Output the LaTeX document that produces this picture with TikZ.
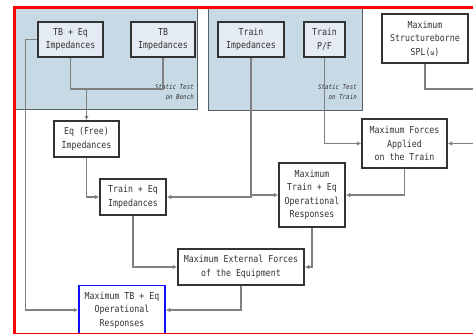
\documentclass[tikz,border=0pt]{standalone}
\usepackage{fontspec}
\usetikzlibrary{arrows.meta}
\newfontfamily\diafont[FakeStretch=0.86]{DejaVu Sans Mono}
\definecolor{regionfill}{HTML}{C8D9E6}
\definecolor{regionedge}{HTML}{5A5F66}
\definecolor{nodefill}{HTML}{E4EBF2}
\definecolor{boxedge}{HTML}{333333}
\definecolor{linegray}{HTML}{808080}
\definecolor{textgray}{HTML}{333333}
\definecolor{frame}{HTML}{FF0000}
\definecolor{hiblue}{HTML}{1010FF}
\tikzset{
  box/.style={draw=boxedge, line width=1.5pt, fill=white, align=center,
    inner sep=0pt, text=textgray, font=\diafont\fontsize{9.6}{13.5}\selectfont},
  inbox/.style={box, fill=nodefill},
  conn/.style={draw=linegray, line width=1.4pt},
  arr/.style={conn, -{Latex[length=4.5pt,width=4.5pt]}},
  region/.style={fill=regionfill, draw=regionedge, line width=1pt},
  note/.style={align=right, anchor=east, inner sep=0pt, text=textgray,
    font=\diafont\itshape\fontsize{6.8}{10}\selectfont}
}
\begin{document}
\begin{tikzpicture}[x=1pt,y=-1pt]
\clip (0,0) rectangle (473,333);
\fill[white] (0,0) rectangle (473,333);
% regions
\draw[region] (15.5,8.5) rectangle (197,109);
\draw[region] (208,8.5) rectangle (362,110);
\node[note] (nb) at (194,92) {Static Test\\on Bench};
\node[note] (nt) at (357,92) {Static Test\\on Train};
% nodes
\node[inbox, minimum width=65pt, minimum height=35pt] (A) at (70.5,39.5) {TB + Eq\\Impedances};
\node[inbox, minimum width=64pt, minimum height=35pt] (B) at (163,39.5) {TB\\Impedances};
\node[inbox, minimum width=66pt, minimum height=35pt] (C) at (251,39.5) {Train\\Impedances};
\node[inbox, minimum width=41pt, minimum height=35pt] (D) at (324.5,39.5) {Train\\P/F};
\node[box, minimum width=86pt, minimum height=49pt] (E) at (425,38.5) {Maximum\\Structureborne\\SPL({\fontsize{7.5}{9}\selectfont ω})};
\node[box, minimum width=85pt, minimum height=49pt] (F) at (404.5,143.5) {Maximum Forces\\Applied\\on the Train};
\node[box, minimum width=65pt, minimum height=36pt] (G) at (86.5,139) {Eq (Free)\\Impedances};
\node[box, minimum width=66pt, minimum height=36pt] (H) at (133,197) {Train + Eq\\Impedances};
\node[box, minimum width=66pt, minimum height=64pt] (I) at (312,195) {Maximum\\Train + Eq\\Operational\\Responses};
\node[box, minimum width=126pt, minimum height=36pt] (J) at (241,267) {Maximum External Forces\\of the Equipment};
\node[box, draw=hiblue, minimum width=86pt, minimum height=49pt] (K) at (122,310) {Maximum TB + Eq\\Operational\\Responses};
% connectors
\coordinate (j1) at (86.5,89);
\coordinate (offr1) at (490,89);
\coordinate (offr2) at (490,143.5);
\draw[conn] (A.south) |- (j1) -| (B.south);
\draw[arr] (j1) -- (G.north);
\draw[arr] (A.west) -- ++(-12,0) |- (K.west);
\draw[arr] (G.south) |- (H.west);
\draw[arr] (C.south) |- (H.east);
\draw[arr] (C.south |- I.west) -- (I.west);
\draw[arr] (D.south) |- (F.west);
\draw[conn] (E.south) |- (offr1);
\draw[arr] (offr2) -- (F.east);
\draw[arr] (F.south) |- (I.east);
\draw[arr] (I.south) |- (J.east);
\draw[arr] (H.south) |- (J.west);
\draw[arr] (J.south) |- (K.east);
% red frame
\draw[frame, line width=3pt] (14,7.5) rectangle (520,334.3);
\end{tikzpicture}
\end{document}
